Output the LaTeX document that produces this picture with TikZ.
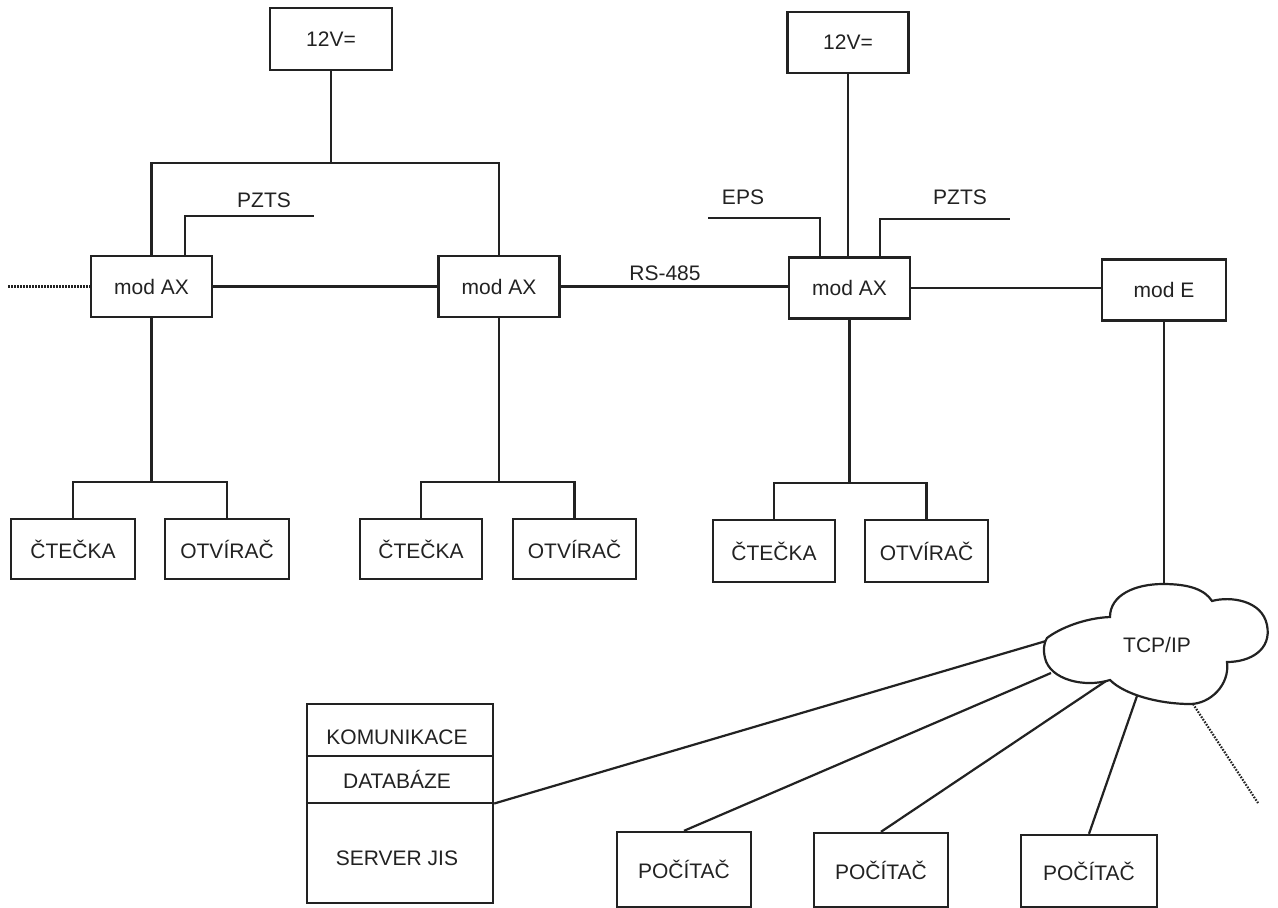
\documentclass[tikz,border=0pt]{standalone}
\usepackage{fontspec}
\setmainfont{Liberation Sans}
\usetikzlibrary{calc}
\definecolor{ink}{HTML}{222222}
\begin{document}
\begin{tikzpicture}[x=1pt,y=-1pt,
  every node/.style={font=\fontsize{21}{25}\selectfont, text=ink},
  box/.style={draw=ink, line width=2.4pt, minimum width=121pt, minimum height=61pt, inner sep=0pt, fill=white},
  wire/.style={draw=ink, line width=2.2pt},
  thinwire/.style={draw=ink, line width=1.5pt},
  dotwire/.style={draw=ink, line width=2.2pt, dash pattern=on 1.6pt off 1.4pt},
  lbl/.style={inner sep=0pt}]
\fill[white] (0,0) rectangle (1278,908);
\useasboundingbox (0,0) rectangle (1278,908);

% power supplies
\node[box, minimum width=122pt, minimum height=62pt] (v1) at (331,39) {12V=};
\node[box] (v2) at (848,42.5) {12V=};

% modules
\node[box] (ax1) at (151.5,286.5) {mod AX};
\node[box] (ax2) at (499,286.5) {mod AX};
\node[box] (ax3) at (849.5,288) {mod AX};
\node[box, minimum width=124pt] (me) at (1164,290) {mod E};

% readers / openers
\node[box, minimum width=124pt, minimum height=60pt] (c1) at (73,549) {ČTEČKA};
\node[box, minimum width=124pt, minimum height=60pt] (o1) at (227,549) {OTVÍRAČ};
\node[box, minimum width=122pt, minimum height=60pt] (c2) at (421,549) {ČTEČKA};
\node[box, minimum width=123pt, minimum height=60pt] (o2) at (574.5,549) {OTVÍRAČ};
\node[box, minimum width=122pt, minimum height=62pt] (c3) at (774,551) {ČTEČKA};
\node[box, minimum width=123pt, minimum height=62pt] (o3) at (926.5,551) {OTVÍRAČ};

% power wiring left
\coordinate (j1) at (331,163);
\draw[wire] (v1.south) -- (j1);
\draw[wire] (ax1.north) |- (j1) -| (ax2.north);

% PZTS left
\coordinate (pz1) at (314,216);
\draw[wire] ([xshift=33.5pt]ax1.north) |- (pz1);
\node[lbl] (lpz1) at (264,200) {PZTS};

% bus
\coordinate (dl) at (8,286.5);
\draw[dotwire] (dl) -- (ax1.west);
\draw[wire] (ax1.east) -- (ax2.west);
\draw[wire] (ax2.east) -- (ax2.east -| ax3.west);
\node[lbl] (lrs) at (665,273) {RS-485};
\draw[wire] (ax3.east) -- (ax3.east -| me.west);

% right module power and inputs
\draw[wire] (v2.south) -- (v2.south |- ax3.north);
\coordinate (eps) at (708,218);
\draw[wire] ([xshift=-29.5pt]ax3.north) |- (eps);
\node[lbl] (leps) at (743,197) {EPS};
\coordinate (pz2) at (1010,219);
\draw[wire] ([xshift=30.5pt]ax3.north) |- (pz2);
\node[lbl] (lpz2) at (960,197) {PZTS};

% branches to readers / openers
\draw[wire] (ax1.south) -- ++(0,163.5) coordinate (b1);
\draw[wire] (c1.north) |- (b1) -| (o1.north);
\draw[wire] (ax2.south) -- ++(0,163.5) coordinate (b2);
\draw[wire] (c2.north) |- (b2) -| (o2.north);
\draw[wire] (ax3.south) -- ++(0,163) coordinate (b3);
\draw[wire] (c3.north) |- (b3) -| (o3.north);

% cloud
\draw[wire, fill=white] (1047,638) .. controls (1060,628) and (1085,618) .. (1110,617)
  .. controls (1110,595) and (1135,584) .. (1163,584)
  .. controls (1190,584) and (1205,590) .. (1212,601)
  .. controls (1230,596) and (1262,600) .. (1267,625)
  .. controls (1272,650) and (1250,662) .. (1227,662)
  .. controls (1230,685) and (1210,704) .. (1190,704)
  .. controls (1160,704) and (1125,695) .. (1110,680)
  .. controls (1085,688) and (1050,680) .. (1045,658)
  .. controls (1043,650) and (1044,642) .. (1047,638) -- cycle;
\node[lbl] (tcp) at (1157,645) {TCP/IP};
\coordinate (cT) at (1164,584);
\coordinate (cS) at (1046,641);
\coordinate (cP1) at (1051,673);
\coordinate (cP2) at (1106,681);
\coordinate (cP3) at (1137,696);
\coordinate (cD) at (1193,704);
\coordinate (dE) at (1258,803);
\draw[wire] (me.south) -- (cT);

% server
\node[box, minimum width=186pt, minimum height=199pt] (srv) at (400,803.5) {};
\draw[thinwire] ([yshift=-53pt]srv.north west) -- ([yshift=-53pt]srv.north east);
\draw[thinwire] ([yshift=-100pt]srv.north west) -- ([yshift=-100pt]srv.north east);
\node[lbl] (tkom) at (397,737) {KOMUNIKACE};
\node[lbl] (tdb) at (397,779) {DATABÁZE};
\node[lbl] (tsrv) at (397,858) {SERVER JIS};

% computers
\node[box, minimum width=134pt, minimum height=75pt] (pc1) at (684,869.5) {POČÍTAČ};
\node[box, minimum width=134pt, minimum height=74pt] (pc2) at (881,870) {POČÍTAČ};
\node[box, minimum width=136pt, minimum height=72pt] (pc3) at (1089,871) {POČÍTAČ};

% network links
\draw[wire] (srv.east) -- (cS);
\draw[wire] (pc1.north) -- (cP1);
\draw[wire] (pc2.north) -- (cP2);
\draw[wire] (pc3.north) -- (cP3);
\draw[dotwire] (cD) -- (dE);
\end{tikzpicture}
\end{document}
